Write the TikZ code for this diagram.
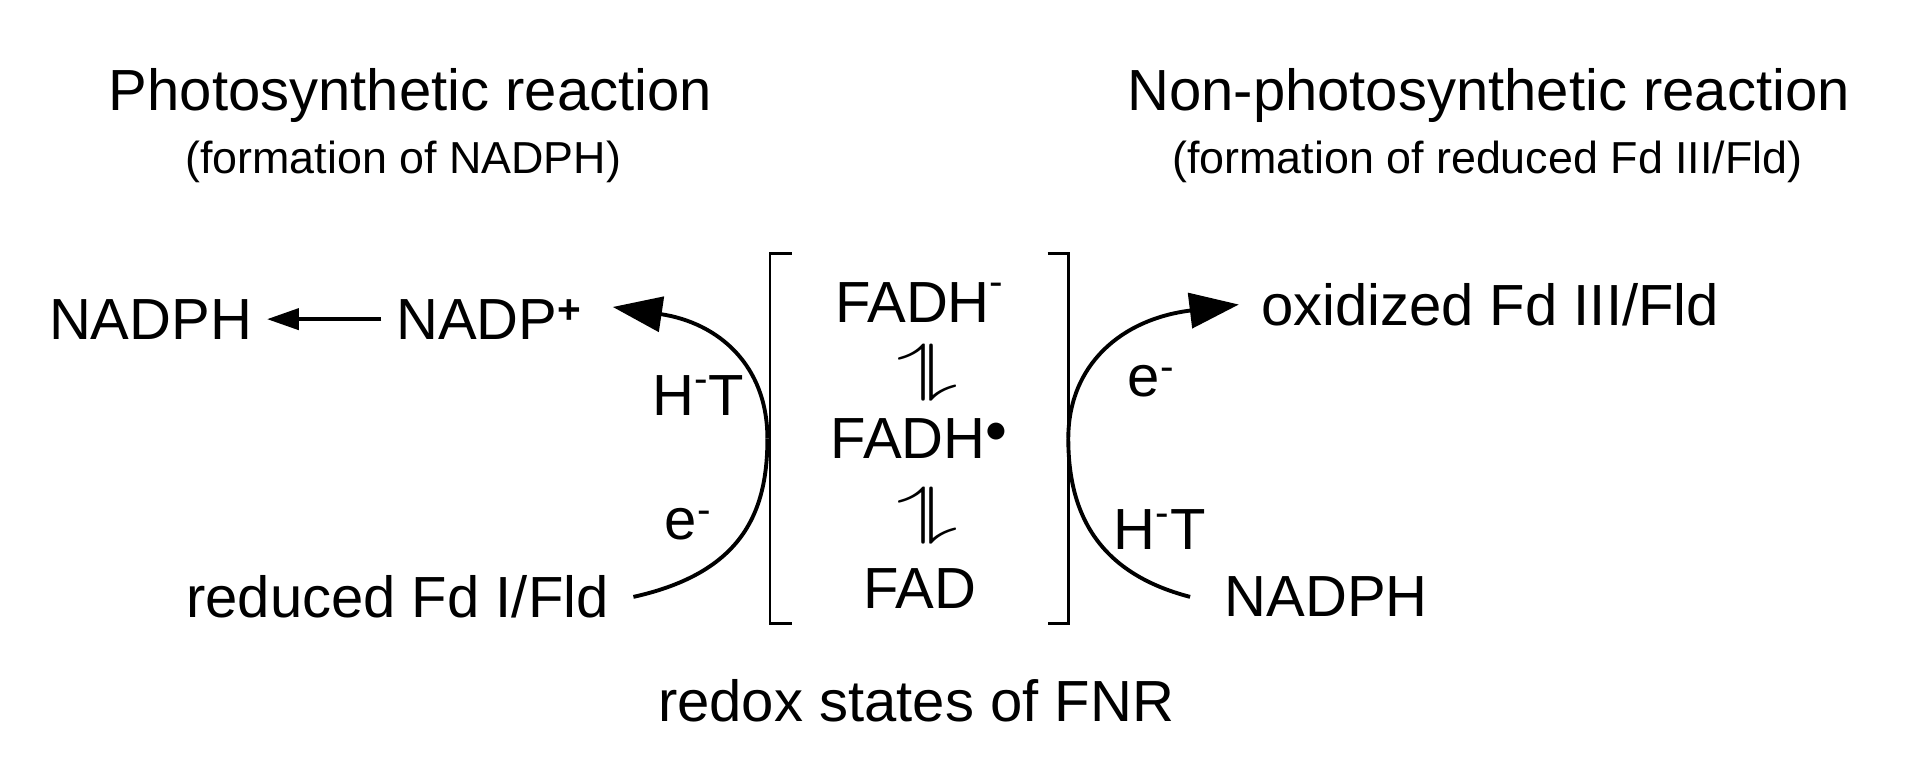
\documentclass[tikz,border=0pt]{standalone}
\usepackage{fontspec}
\setmainfont{Liberation Sans}
\usetikzlibrary{arrows.meta,calc}
\begin{document}
\begin{tikzpicture}[x=0.02436cm,y=-0.02436cm,
  big/.style={font=\fontsize{33}{36}\selectfont, inner sep=0pt},
  small/.style={font=\fontsize{25.5}{28}\selectfont, inner sep=0pt},
  eq/.style={font=\fontsize{33}{36}\selectfont, inner sep=0pt, rotate=-90, xscale=1.5, yscale=2.2},
  curve/.style={line width=2.2pt},
  tip/.style={-{Triangle[length=28pt,width=20pt]}}]
\useasboundingbox (0,0) rectangle (1568,636);
\node[big] (t1) at (337,78) {Photosynthetic reaction};
\node[small] (s1) at (331,133) {(formation of NADPH)};
\node[big] (t2) at (1222,78) {Non-photosynthetic reaction};
\node[small] (s2) at (1221,133) {(formation of reduced Fd III/Fld)};
\node[big,anchor=west] (nadph1) at (40,262) {NADPH};
\node[big,anchor=west] (nadp) at (325,262) {NADP\textsuperscript{\textbf{+}}};
\draw[line width=2pt,-{Triangle[length=18pt,width=12pt]}] ($(nadp.west)+(-12,0)$) -- ($(nadph1.east)+(12,0)$);
\node[big] (f1) at (755,248) {FADH\raisebox{6pt}{\textsuperscript{-}}};
\node[eq] (e1) at (755,306) {$\rightleftharpoons$};
\node[big] (f2) at (755,360) {FADH$^{\bullet}$};
\node[eq] (e2) at (755,423) {$\rightleftharpoons$};
\node[big] (f3) at (755,483) {FAD};
\draw[line width=1.4pt] (650,208) -- (632,208) -- (632,512) -- (650,512);
\draw[line width=1.4pt] (860,208) -- (877,208) -- (877,512) -- (860,512);
\node[big,anchor=east] (red) at (500,490) {reduced Fd I/Fld};
\node[big,anchor=west] (ox) at (1035,250) {oxidized Fd III/Fld};
\node[big,anchor=west] (nadph2) at (1005,490) {NADPH};
\coordinate (lm) at (630,360);
\coordinate (rm) at (877,360);
\draw[curve] ($(red.east)+(20,0)$) .. controls (610,470) and (630,420) .. (lm);
\draw[curve,tip] (lm) .. controls (630,300) and (590,265) .. ($(nadp.east)+(25,-10)$);
\draw[curve] ($(nadph2.west)+(-28,0)$) .. controls (900,470) and (877,420) .. (rm);
\draw[curve,tip] (rm) .. controls (877,300) and (920,262) .. ($(ox.west)+(-18,0)$);
\node[big] (ht1) at (573,325) {H\raisebox{4pt}{\textsuperscript{-}}T};
\node[big] (el) at (565,430) {e\textsuperscript{-}};
\node[big] (er) at (945,313) {e\textsuperscript{-}};
\node[big] (ht2) at (952,435) {H\raisebox{4pt}{\textsuperscript{-}}T};
\node[big] (fnr) at (752,575) {redox states of FNR};
\end{tikzpicture}
\end{document}
